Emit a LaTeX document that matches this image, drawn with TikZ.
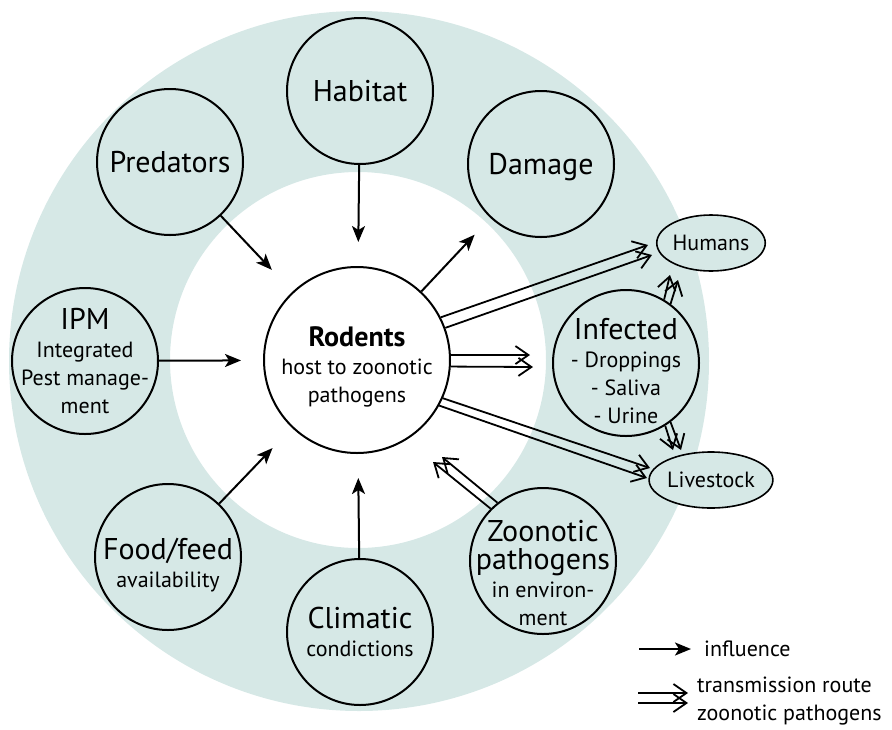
\documentclass[tikz,border=0pt]{standalone}
\usepackage{fontspec}
\setmainfont{PT Sans}
\usetikzlibrary{arrows.meta,shapes.geometric}
\definecolor{ringfill}{RGB}{214,232,230}
\newcommand\bigtx{\fontsize{30}{28}\selectfont}
\newcommand\smtx{\fontsize{22}{28}\selectfont}
% raises the top of a first line so the text block sits lower in its circle
\newcommand\toplift[1]{\rule{0pt}{#1pt}}
\begin{document}
\begin{tikzpicture}[x=1pt,y=-1pt,
  bub/.style={circle, draw, line width=2pt, fill=ringfill, minimum size=146pt,
              inner sep=-30pt, align=center, font=\smtx, text depth=0pt},
  oval/.style={ellipse, draw, line width=1.6pt, fill=ringfill, minimum width=104pt,
               minimum height=56pt, inner sep=0pt, font=\smtx},
  infl/.style={line width=2pt, -{Stealth[length=16pt,width=13pt,inset=4pt]}},
  trans/.style={line width=1.8pt, -{Straight Barb[length=13pt,width=18pt]}}]
\useasboundingbox (0,0) rectangle (892,729);

% shaded ring behind the factors
\fill[ringfill, even odd rule] (359,361) circle[radius=350pt] (358,360) circle[radius=188pt];

% central node
\node[bub, minimum size=186pt, fill=white] (rod) at (357,360)
  {\toplift{28}{\fontsize{28}{28}\selectfont\bfseries Rodents}\\host to zoonotic\\pathogens};

% surrounding factors
\node[bub] (hab)  at (360,91)  {\bigtx Habitat};
\node[bub] (pred) at (170,162) {\bigtx Predators\rule[-8pt]{0pt}{0pt}};
\node[bub] (dam)  at (541,164) {\bigtx Damage};
\node[bub] (ipm)  at (85,361)  {{\bigtx IPM}\\Integrated\\Pest manage-\\ment};
\node[bub] (inf)  at (626,363) {\toplift{36}{\bigtx Infected}\\- Droppings\\- Saliva\\- Urine};
\node[bub] (food) at (168,557) {\toplift{32}{\bigtx Food/feed}\\availability};
\node[bub] (clim) at (360,632) {{\bigtx Climatic}\\condictions};
\node[bub] (zoo)  at (543,561) {\toplift{44}{\bigtx Zoonotic}\\{\bigtx pathogens}\\in environ-\\ment};

\node[oval] (hum)  at (711,243) {Humans};
\node[oval] (live) at (711,480) {Livestock};

% influence arrows
\draw[infl, shorten >=24pt] (hab) -- (rod);
\draw[infl, shorten >=30pt] (pred) -- (rod);
\draw[infl, shorten >=22pt] (ipm) -- (rod);
\draw[infl, shorten >=28pt] (food) -- (rod);
\draw[infl, shorten >=24pt] (clim) -- (rod);
\draw[infl, shorten >=23pt] (rod) -- (dam);

% transmission routes (paired lines)
\draw[trans] (rod.27) -- ([shift={(-63,2)}]hum.center);
\draw[trans] (rod.20) -- ([shift={(-59,12)}]hum.center);
\draw[trans] (rod.3)  -- ([shift={(-96,-8)}]inf.center);
\draw[trans] (rod.-4) -- ([shift={(-93,4)}]inf.center);
\draw[trans] (rod.-24) -- ([shift={(-61,-12)}]live.center);
\draw[trans] (rod.-29) -- ([shift={(-64,-2)}]live.center);
\draw[trans] (inf.59) -- ([shift={(-41,32)}]hum.center);
\draw[trans] (inf.53) -- ([shift={(-33,37)}]hum.center);
\draw[trans] (inf.-58) -- ([shift={(-38,-30)}]live.center);
\draw[trans] (inf.-53) -- ([shift={(-30,-30)}]live.center);
\draw[trans] (zoo.135) -- ([shift={(76,102)}]rod.center);
\draw[trans] (zoo.128) -- ([shift={(85,97)}]rod.center);

% legend
\node[anchor=west, inner sep=0pt, font=\smtx] (lgi) at (704,649) {influence};
\coordinate (lgia) at (639,649);
\draw[infl] (lgia) -- ([xshift=-13pt]lgi.west);
\node[anchor=west, inner sep=0pt, align=left, font=\smtx] (lgt) at (697,701)
  {transmission route\\zoonotic pathogens};
\draw[trans] ([shift={(-59,-8)}]lgt.west) -- ([shift={(-9,-8)}]lgt.west);
\draw[trans] ([shift={(-59,2)}]lgt.west) -- ([shift={(-9,2)}]lgt.west);
\end{tikzpicture}
\end{document}
